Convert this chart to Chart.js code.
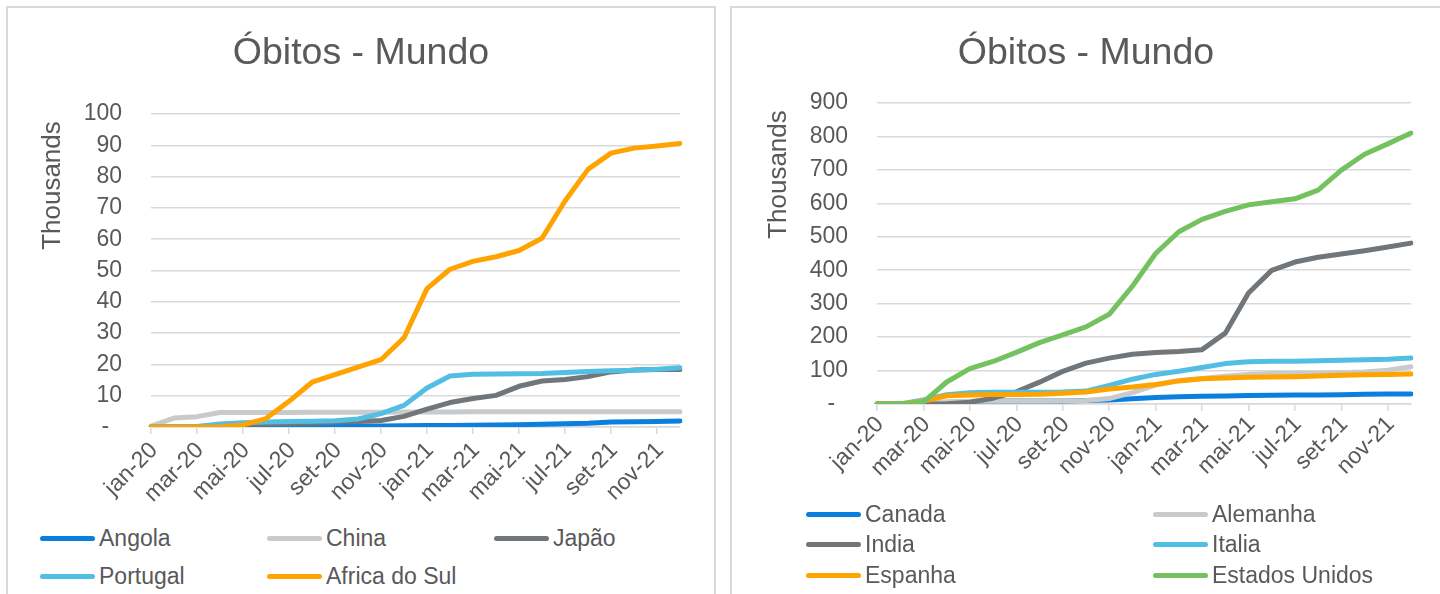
<!DOCTYPE html>
<html>
<head>
<meta charset="utf-8">
<script src="https://cdn.jsdelivr.net/npm/chart.js@4.4.1/dist/chart.umd.min.js"></script>
<style>
  body { margin: 0; width: 1440px; height: 594px; overflow: hidden; background: #fff; font-family: "Liberation Sans", Arial, sans-serif; }
  .panel { position: absolute; top: 6px; height: 640px; border: 2px solid #d9d9d9; box-sizing: border-box; }
  #left { left: 6px; width: 710px; }
  #right { left: 730px; width: 740px; }
  .wrap { position: absolute; left: 0; top: 0; height: 510px; }
  .legend { position: absolute; display: grid; color: #595959; font-size: 23px; }
  .item { display: flex; align-items: center; white-space: nowrap; }
  .swatch { width: 55px; height: 5px; border-radius: 3px; margin-right: 4px; }
</style>
</head>
<body>
<div class="panel" id="left">
  <div class="wrap" style="width:706px"><canvas id="chartLeft"></canvas></div>
  <div class="legend" id="legendLeft" style="left:32px; top:511px; grid-template-columns: repeat(3, 227px); grid-auto-rows: 38px;"></div>
</div>
<div class="panel" id="right">
  <div class="wrap" style="width:708px"><canvas id="chartRight"></canvas></div>
  <div class="legend" id="legendRight" style="left:74px; top:491px; grid-template-columns: repeat(2, 347px); grid-auto-rows: 30.5px;"></div>
</div>
<script>
// month labels (one point per month, end of month)
const months = ['jan-20', 'fev-20', 'mar-20', 'abr-20', 'mai-20', 'jun-20', 'jul-20', 'ago-20', 'set-20', 'out-20', 'nov-20', 'dez-20',
                'jan-21', 'fev-21', 'mar-21', 'abr-21', 'mai-21', 'jun-21', 'jul-21', 'ago-21', 'set-21', 'out-21', 'nov-21', 'dez-21'];

// left chart, deaths in thousands
const angola = [0, 0, 0, 0, 0.004, 0.013, 0.041, 0.107, 0.192, 0.291, 0.346, 0.405, 0.464, 0.509, 0.542, 0.61, 0.746, 0.9, 1.02, 1.2, 1.56, 1.69, 1.73, 1.9];
const china = [0.26, 2.84, 3.31, 4.63, 4.63, 4.63, 4.66, 4.71, 4.74, 4.74, 4.74, 4.78, 4.8, 4.82, 4.84, 4.85, 4.85, 4.85, 4.85, 4.85, 4.85, 4.85, 4.85, 4.85];
const japao = [0, 0, 0.06, 0.43, 0.89, 0.97, 1.0, 1.3, 1.56, 1.75, 2.1, 3.4, 5.7, 7.8, 9.1, 10.1, 13.0, 14.7, 15.2, 16.1, 17.6, 18.2, 18.4, 18.4];
const portugal = [0, 0, 0.16, 0.99, 1.38, 1.58, 1.74, 1.82, 1.97, 2.54, 4.28, 6.91, 12.48, 16.32, 16.88, 16.97, 17.03, 17.1, 17.38, 17.76, 17.98, 18.13, 18.45, 18.96];
const africaDoSul = [0, 0, 0.005, 0.1, 0.68, 2.7, 8.2, 14.3, 16.7, 19.1, 21.5, 28.5, 44.2, 50.4, 52.9, 54.4, 56.4, 60.3, 72.2, 82.3, 87.5, 89.1, 89.8, 90.6];

// right chart, deaths in thousands
const canada = [0, 0, 0.13, 3.3, 7.3, 8.6, 8.9, 9.1, 9.3, 10.1, 12.1, 15.6, 19.5, 21.9, 22.9, 24.2, 25.6, 26.3, 26.6, 27.0, 28.0, 28.9, 29.6, 30.2];
const alemanha = [0, 0, 0.6, 6.6, 8.5, 9.0, 9.1, 9.3, 9.5, 10.5, 16.2, 33.8, 56.5, 70.1, 76.4, 82.7, 88.4, 90.9, 91.7, 92.3, 93.6, 95.9, 101.3, 111.6];
const india = [0, 0, 0.03, 1.1, 5.4, 17.4, 36.5, 65.3, 97.5, 122.1, 137.1, 149.0, 154.3, 157.2, 162.5, 211.9, 331.9, 399.5, 424.4, 439.0, 448.8, 458.4, 469.2, 481.1];
const italia = [0, 0.03, 12.4, 27.9, 33.4, 34.8, 35.1, 35.5, 35.9, 38.6, 55.6, 74.2, 88.5, 97.7, 109.3, 120.8, 126.3, 127.6, 128.1, 129.0, 130.9, 132.1, 133.8, 137.2];
const espanha = [0, 0, 8.5, 24.5, 27.1, 28.4, 28.4, 29.1, 31.8, 35.9, 45.1, 50.8, 58.3, 69.1, 75.5, 78.1, 79.9, 80.8, 81.8, 84.0, 86.0, 87.3, 88.1, 89.4];
const estadosUnidos = [0, 0.002, 5.4, 65.8, 106.0, 127.2, 154.5, 183.6, 206.6, 230.5, 268.2, 352.0, 450.0, 514.9, 552.0, 575.8, 595.4, 604.6, 613.4, 639.7, 699.2, 746.8, 777.8, 810.0];

const BLUE = '#0b7fdf', LIGHTGRAY = '#c9cacb', DARKGRAY = '#71767a', LIGHTBLUE = '#52bee3', ORANGE = '#ffa300', GREEN = '#74c15f';
const TEXT = '#595959', GRID = '#d9d9d9';

Chart.defaults.font.family = '"Liberation Sans", Arial, sans-serif';
Chart.defaults.color = TEXT;

const leftSeries = [
  { name: 'Angola', data: angola, color: BLUE },
  { name: 'China', data: china, color: LIGHTGRAY },
  { name: 'Japão', data: japao, color: DARKGRAY },
  { name: 'Portugal', data: portugal, color: LIGHTBLUE },
  { name: 'Africa do Sul', data: africaDoSul, color: ORANGE }
];
const rightSeries = [
  { name: 'Canada', data: canada, color: BLUE },
  { name: 'Alemanha', data: alemanha, color: LIGHTGRAY },
  { name: 'India', data: india, color: DARKGRAY },
  { name: 'Italia', data: italia, color: LIGHTBLUE },
  { name: 'Espanha', data: espanha, color: ORANGE },
  { name: 'Estados Unidos', data: estadosUnidos, color: GREEN }
];

function makeChart(canvasId, series, yMax, yStep, lay) {
  return new Chart(document.getElementById(canvasId), {
    type: 'line',
    data: {
      labels: months,
      datasets: series.map((s, i) => ({
        label: s.name,
        data: s.data,
        borderColor: s.color,
        backgroundColor: s.color,
        borderWidth: 5,
        pointRadius: 0,
        tension: 0,
        borderJoinStyle: 'round',
        borderCapStyle: 'round',
        order: series.length - i // last series on top, like excel
      }))
    },
    options: {
      responsive: true,
      maintainAspectRatio: false,
      animation: false,
      // same padding both sides so the title stays centred on the panel
      layout: { padding: { left: lay.pad, right: lay.pad, top: 0, bottom: 0 } },
      plugins: {
        legend: { display: false },
        tooltip: { enabled: false },
        title: {
          display: true,
          text: 'Óbitos - Mundo',
          color: TEXT,
          font: { size: 37.5, weight: 'normal' },
          padding: { top: 23, bottom: lay.titleBottom }
        }
      },
      scales: {
        x: {
          grid: {
            drawOnChartArea: false,
            tickLength: 7,
            lineWidth: 1.5,
            color: (c) => (c.index % 2 ? 'rgba(0,0,0,0)' : GRID)
          },
          border: { color: GRID, width: 1.5 },
          ticks: {
            autoSkip: false,
            minRotation: 45,
            maxRotation: 45,
            padding: lay.xPad,
            labelOffset: 3,
            color: TEXT,
            font: { size: 23 },
            callback: function (value, index) {
              return index % 2 ? '' : this.getLabelForValue(value);
            }
          },
          afterFit: (scale) => { scale.height = lay.xHeight; }
        },
        y: {
          min: 0,
          max: yMax,
          grid: { color: GRID, lineWidth: 1.5, drawTicks: false },
          border: { display: false },
          ticks: {
            stepSize: yStep,
            padding: 29,
            color: TEXT,
            font: { size: 23 },
            callback: (v) => (v === 0 ? '-  ' : v)
          },
          title: {
            display: true,
            text: 'Thousands ',
            align: 'end',
            color: TEXT,
            font: { size: 26 },
            padding: { top: lay.titlePad, bottom: 0 }
          },
          afterFit: (scale) => { scale.width = lay.yWidth; }
        }
      }
    }
  });
}

function makeLegend(id, series) {
  const box = document.getElementById(id);
  series.forEach((s) => {
    const item = document.createElement('div');
    item.className = 'item';
    const sw = document.createElement('span');
    sw.className = 'swatch';
    sw.style.background = s.color;
    const label = document.createElement('span');
    label.textContent = s.name;
    item.appendChild(sw);
    item.appendChild(label);
    box.appendChild(item);
  });
}

makeChart('chartLeft', leftSeries, 100, 10, { pad: 34, yWidth: 109, xHeight: 91, titleBottom: 38, titlePad: -5, xPad: 3 });
makeChart('chartRight', rightSeries, 900, 100, { pad: 29, yWidth: 116, xHeight: 114, titleBottom: 27, titlePad: 2, xPad: 0 });
makeLegend('legendLeft', leftSeries);
makeLegend('legendRight', rightSeries);
</script>
</body>
</html>
